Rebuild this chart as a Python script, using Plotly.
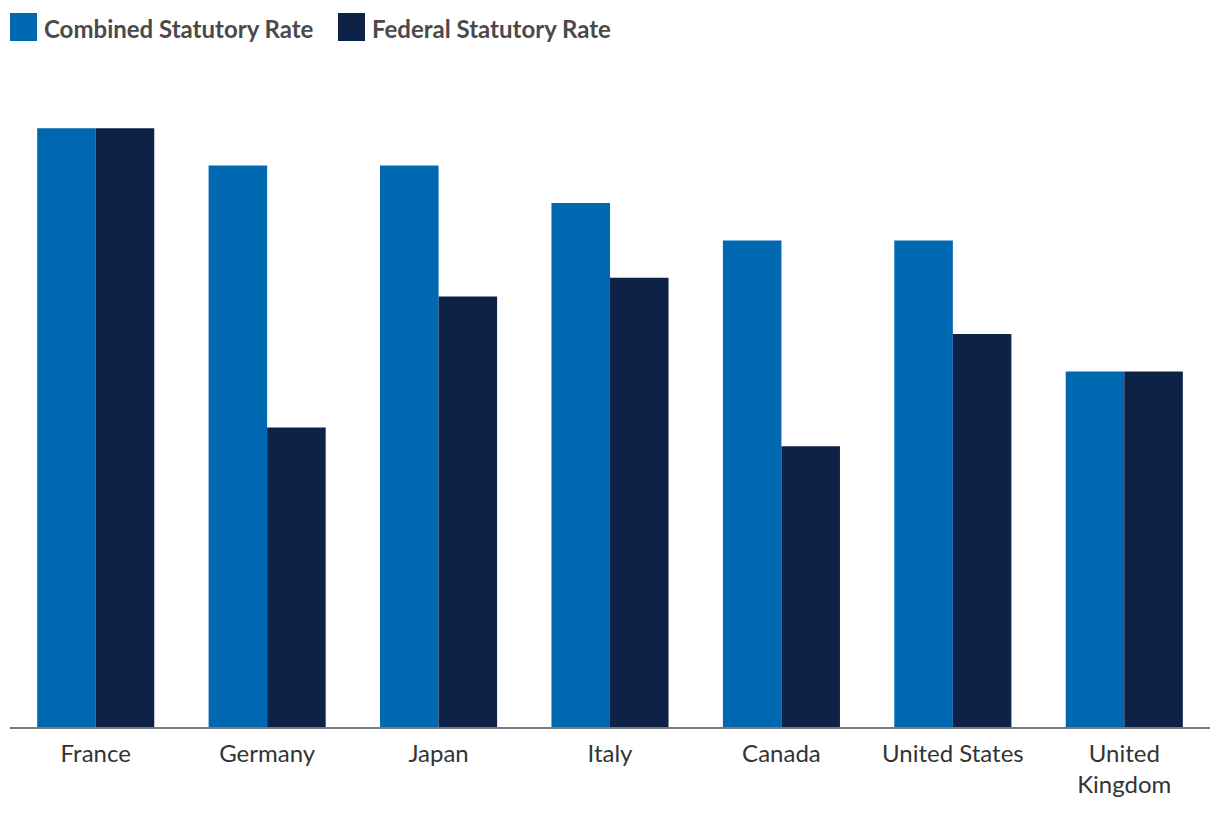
import plotly.graph_objects as go

countries = ["France", "Germany", "Japan", "Italy", "Canada", "United States", "United<br>Kingdom"]
combined = [32, 30, 30, 28, 26, 26, 19]
federal = [32, 16, 23, 24, 15, 21, 19]
series_names = ["Combined Statutory Rate", "Federal Statutory Rate"]
colors = ["#0067B1", "#0E2247"]

# page has an 8px body margin; figure sized so that it fills the 1220x814 window
OFF = 8
W, H = 1212, 806
ml, mr, mt, mb = 2, 10, 64, 87
pw, ph = W - ml - mr, H - mt - mb

fig = go.Figure()
for name, vals, col in zip(series_names, [combined, federal], colors):
    fig.add_trace(go.Bar(x=countries, y=vals, name=name, marker=dict(color=col, line=dict(width=0)),
                         showlegend=False, hoverinfo="x+y"))

def px_x(p):
    return (p - OFF - ml) / pw

def px_y(p):
    return (H - mb - (p - OFF)) / ph

# custom legend
legend_items = [(10, 42), (338, 370)]
for (sx, tx), name, col in zip(legend_items, series_names, colors):
    fig.add_shape(type="rect", xref="paper", yref="paper",
                  x0=px_x(sx), x1=px_x(sx + 27), y0=px_y(41), y1=px_y(13),
                  fillcolor=col, line=dict(width=0))
    fig.add_annotation(xref="paper", yref="paper", x=px_x(tx), y=px_y(28),
                       text="<b>" + name + "</b>", showarrow=False,
                       xanchor="left", yanchor="middle",
                       font=dict(family="Lato", size=24, color="#4A4A4A"))

fig.update_layout(
    width=W, height=H,
    margin=dict(l=ml, r=mr, t=mt, b=mb),
    barmode="group", bargap=0.317, bargroupgap=0,
    plot_bgcolor="white", paper_bgcolor="white",
    xaxis=dict(showline=True, linecolor="#7A7A7A", linewidth=2, ticks="",
               ticklabelstandoff=4,
               tickfont=dict(family="Lato", size=24, color="#333333"),
               showgrid=False, fixedrange=True),
    yaxis=dict(range=[0, 35], visible=False, showgrid=False, fixedrange=True),
    font=dict(family="Lato"),
)

fig.write_html("out.html")
